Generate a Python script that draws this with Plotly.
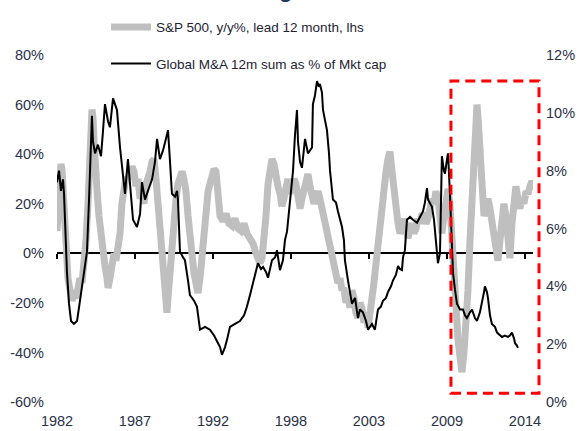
import plotly.graph_objects as go

# ---------------- data ----------------
tick_years = [1982, 1987.33, 1992.67, 1998, 2003.33, 2008.67, 2014]
tick_labels = ["1982", "1987", "1992", "1998", "2003", "2009", "2014"]

left_ticks = [-60, -40, -20, 0, 20, 40, 60, 80]
right_ticks = [0, 2, 4, 6, 8, 10, 12]

sp_name = "S&P 500, y/y%, lead 12 month, lhs"
sp_x = [1982.00, 1982.07, 1982.17, 1982.27, 1982.34, 1982.41, 1982.48, 1982.62, 1982.75, 1982.89,
        1983.03, 1983.16, 1983.30, 1983.44, 1983.57, 1983.71, 1983.85, 1983.98, 1984.12, 1984.19,
        1984.26, 1984.32, 1984.39, 1984.46, 1984.53, 1984.60, 1984.74, 1984.87, 1985.01, 1985.15,
        1985.28, 1985.42, 1985.49, 1985.62, 1985.76, 1985.90, 1986.03, 1986.17, 1986.31, 1986.44,
        1986.58, 1986.72, 1986.85, 1986.99, 1987.13, 1987.26, 1987.40, 1987.54, 1987.68, 1987.81,
        1987.95, 1988.09, 1988.22, 1988.36, 1988.50, 1988.63, 1988.77, 1988.91, 1989.04, 1989.18,
        1989.32, 1989.45, 1989.52, 1989.59, 1989.73, 1989.86, 1990.00, 1990.14, 1990.27, 1990.41,
        1990.55, 1990.68, 1990.82, 1990.96, 1991.09, 1991.23, 1991.37, 1991.50, 1991.64, 1991.78,
        1991.91, 1992.05, 1992.19, 1992.33, 1992.46, 1992.60, 1992.74, 1992.87, 1993.01, 1993.15,
        1993.35, 1993.56, 1993.76, 1993.97, 1994.17, 1994.38, 1994.58, 1994.79, 1994.99, 1995.20,
        1995.40, 1995.61, 1995.74, 1995.88, 1996.02, 1996.15, 1996.29, 1996.43, 1996.56, 1996.70,
        1996.84, 1996.97, 1997.11, 1997.25, 1997.38, 1997.52, 1997.66, 1997.79, 1997.93, 1998.07,
        1998.21, 1998.34, 1998.48, 1998.62, 1998.75, 1998.89, 1999.03, 1999.16, 1999.30, 1999.44,
        1999.57, 1999.71, 1999.85, 1999.98, 2000.12, 2000.26, 2000.39, 2000.53, 2000.67, 2000.80,
        2000.94, 2001.08, 2001.21, 2001.35, 2001.49, 2001.62, 2001.76, 2001.90, 2002.03, 2002.17,
        2002.31, 2002.44, 2002.58, 2002.72, 2002.85, 2002.99, 2003.13, 2003.27, 2003.40, 2003.54,
        2003.67, 2003.81, 2003.95, 2004.09, 2004.22, 2004.36, 2004.50, 2004.63, 2004.77, 2004.91,
        2005.04, 2005.18, 2005.32, 2005.45, 2005.59, 2005.73, 2005.86, 2006.00, 2006.14, 2006.27,
        2006.41, 2006.55, 2006.68, 2006.82, 2006.96, 2007.09, 2007.23, 2007.37, 2007.50, 2007.64,
        2007.78, 2007.91, 2008.05, 2008.19, 2008.32, 2008.46, 2008.60, 2008.74, 2008.87, 2009.01,
        2009.15, 2009.28, 2009.42, 2009.56, 2009.69, 2009.83, 2009.97, 2010.10, 2010.24, 2010.38,
        2010.51, 2010.65, 2010.72, 2010.79, 2010.92, 2011.06, 2011.20, 2011.33, 2011.47, 2011.61,
        2011.74, 2011.88, 2012.02, 2012.15, 2012.29, 2012.43, 2012.56, 2012.70, 2012.84, 2012.97,
        2013.11, 2013.25, 2013.38, 2013.52, 2013.66, 2013.79, 2013.93, 2014.07, 2014.21, 2014.34,
        2014.48, 2014.55]
sp_y = [9, 20, 33, 36, 34, 25, 10, -3, -10, -15,
        -19, -17, -18, -14, -10, -12, -5, 5, 20, 30,
        42, 52, 58, 55, 45, 35, 25, 15, 6, 0,
        -5, -10, -14, -10, -5, 0, -3, 2, 8, 20,
        28, 31, 30, 34, 35, 33, 27, 30, 22, 24,
        20, 28, 30, 33, 37, 38, 30, 20, 8, -3,
        -15, -22, -24, -18, -5, 5, 15, 22, 28, 32,
        33, 30, 25, 15, 5, -3, -8, -12, -16, -10,
        0, 10, 18, 25, 28, 32, 34, 33, 22, 15,
        13, 16, 12, 11, 14, 10, 9, 12, 8, 6,
        4, 0, -2, -4, -2, 5, 15, 28, 35, 38,
        36, 30, 27, 24, 19, 22, 26, 30, 24, 27,
        30, 28, 23, 18, 22, 26, 29, 32, 27, 23,
        20, 23, 25, 22, 18, 15, 12, 8, 5, 2,
        -2, -8, -12, -10, -15, -14, -20, -17, -22, -15,
        -18, -24, -26, -20, -22, -28, -24, -30, -26, -18,
        -12, -4, 6, 15, 22, 28, 33, 38, 41, 33,
        24, 18, 12, 8, 10, 14, 8, 6, 10, 12,
        8, 10, 14, 12, 16, 15, 12, 14, 18, 22,
        20, 25, 22, 12, 8, 15, 22, 26, 20, 5,
        -10, -25, -35, -42, -48, -40, -30, -15, 5, 25,
        42, 55, 60, 55, 38, 25, 15, 18, 22, 18,
        12, 8, 2, -3, 5, 15, 20, 15, 8, -2,
        12, 25, 27, 22, 18, 22, 20, 25, 24, 27,
        29, 28]

ma_name = "Global M&A 12m sum as % of Mkt cap"
ma_x = [1982.00, 1982.07, 1982.14, 1982.27, 1982.41, 1982.48, 1982.62, 1982.68, 1982.82, 1982.96,
        1983.16, 1983.37, 1983.57, 1983.85, 1984.05, 1984.19, 1984.32, 1984.39, 1984.46, 1984.60,
        1984.80, 1985.01, 1985.15, 1985.28, 1985.49, 1985.62, 1985.83, 1985.97, 1986.10, 1986.31,
        1986.51, 1986.65, 1986.85, 1987.06, 1987.20, 1987.47, 1987.68, 1987.81, 1988.02, 1988.15,
        1988.36, 1988.50, 1988.70, 1988.84, 1989.04, 1989.25, 1989.45, 1989.59, 1989.73, 1989.86,
        1990.07, 1990.21, 1990.27, 1990.41, 1990.62, 1990.75, 1990.96, 1991.09, 1991.37, 1991.57,
        1991.78, 1992.12, 1992.46, 1992.74, 1992.94, 1993.15, 1993.28, 1993.49, 1993.62, 1993.83,
        1994.17, 1994.51, 1994.79, 1994.99, 1995.20, 1995.40, 1995.61, 1995.74, 1995.95, 1996.09,
        1996.29, 1996.43, 1996.70, 1996.91, 1997.04, 1997.25, 1997.45, 1997.59, 1997.73, 1997.86,
        1998.00, 1998.14, 1998.27, 1998.41, 1998.48, 1998.62, 1998.75, 1998.96, 1999.16, 1999.30,
        1999.44, 1999.50, 1999.64, 1999.78, 1999.91, 1999.98, 2000.12, 2000.19, 2000.32, 2000.46,
        2000.60, 2000.67, 2000.87, 2001.08, 2001.21, 2001.35, 2001.49, 2001.62, 2001.69, 2001.90,
        2002.03, 2002.17, 2002.38, 2002.58, 2002.72, 2002.92, 2003.13, 2003.27, 2003.40, 2003.54,
        2003.74, 2003.95, 2004.15, 2004.29, 2004.50, 2004.63, 2004.84, 2004.97, 2005.18, 2005.32,
        2005.45, 2005.59, 2005.66, 2005.79, 2005.93, 2006.14, 2006.34, 2006.62, 2006.82, 2007.03,
        2007.16, 2007.30, 2007.37, 2007.50, 2007.64, 2007.78, 2007.85, 2007.98, 2008.05, 2008.19,
        2008.26, 2008.32, 2008.46, 2008.53, 2008.67, 2008.74, 2008.87, 2008.94, 2009.01, 2009.08,
        2009.21, 2009.35, 2009.56, 2009.76, 2009.90, 2010.03, 2010.24, 2010.38, 2010.58, 2010.72,
        2010.92, 2011.06, 2011.20, 2011.26, 2011.40, 2011.47, 2011.61, 2011.74, 2011.95, 2012.09,
        2012.29, 2012.43, 2012.63, 2012.84, 2012.97, 2013.11, 2013.25, 2013.32, 2013.45, 2013.52]
ma_y = [7.6, 7.9, 8.0, 7.3, 7.7, 7.2, 5.2, 4.5, 3.4, 2.8,
        2.7, 2.8, 3.5, 4.5, 5.2, 7.0, 8.8, 9.9, 9.0, 8.6,
        8.9, 8.5, 9.4, 10.3, 9.7, 9.5, 10.5, 10.3, 10.1, 8.8,
        7.8, 7.2, 8.4, 7.0, 6.3, 6.05, 6.5, 7.6, 7.0, 7.2,
        7.5, 7.7, 8.3, 9.1, 8.4, 8.7, 9.1, 9.4, 8.3, 7.2,
        7.1, 7.3, 7.0, 5.2, 5.0, 4.9, 4.2, 3.7, 3.5, 3.3,
        2.5, 2.6, 2.5, 2.3, 2.1, 1.9, 1.63, 1.9, 2.14, 2.6,
        2.7, 2.8, 3.0, 3.3, 3.7, 4.1, 4.6, 4.8, 4.6, 4.67,
        4.5, 4.3, 4.9, 5.0, 5.25, 4.56, 4.9, 5.6, 5.9, 6.6,
        7.3, 8.0, 9.2, 10.1, 9.0, 8.3, 8.1, 9.1, 8.6, 8.7,
        8.8, 10.3, 10.6, 11.1, 10.9, 11.0, 10.7, 10.1, 9.8, 9.4,
        8.6, 8.0, 7.0, 6.9, 6.6, 6.3, 6.05, 5.6, 4.9, 4.2,
        3.8, 3.4, 3.6, 2.9, 3.2, 3.1, 2.8, 2.5, 2.6, 2.7,
        2.5, 3.2, 3.3, 3.5, 3.6, 3.8, 4.0, 4.2, 4.4, 4.7,
        4.6, 4.56, 5.0, 5.25, 6.3, 6.4, 6.3, 6.2, 6.4, 6.6,
        6.9, 7.4, 7.0, 6.9, 6.75, 6.3, 5.85, 5.0, 4.8, 5.15,
        6.5, 8.5, 8.0, 7.9, 8.4, 8.6, 7.2, 6.2, 5.15, 4.46,
        3.9, 3.4, 3.2, 3.2, 3.0, 2.9, 3.1, 3.2, 2.9, 2.8,
        3.1, 3.4, 3.8, 4.0, 3.8, 3.6, 3.0, 2.7, 2.6, 2.4,
        2.3, 2.25, 2.3, 2.25, 2.3, 2.4, 2.2, 2.04, 1.95, 1.87]

highlight_start, highlight_end = 2008.94, 2014.96   # red dashed box (years)
highlight_low, highlight_high = -56.5, 69.5           # red dashed box (lhs %)

# ---------------- figure ----------------
FONT = "Liberation Sans, Arial, sans-serif"
TICK_COLOR = "#2a3247"
X_RANGE = [1982, 2014.55]
Y_RANGE = [-60, 80]
Y2_RANGE = [0, 12]

fig = go.Figure()
fig.add_trace(go.Scatter(
    x=sp_x, y=sp_y, mode="lines", name=sp_name, legendgroup="sp",
    line=dict(color="#BFBFBF", width=7), xaxis="x", yaxis="y",
))
fig.add_trace(go.Scatter(
    x=ma_x, y=ma_y, mode="lines", name=ma_name, legendgroup="ma",
    line=dict(color="#000000", width=2), xaxis="x2", yaxis="y2",
))

zero_pos = (0 - Y_RANGE[0]) / (Y_RANGE[1] - Y_RANGE[0])

fig.update_layout(
    width=579, height=431,
    margin=dict(l=57, r=46, t=55, b=29, autoexpand=False),
    paper_bgcolor="white", plot_bgcolor="white",
    font=dict(family=FONT, color=TICK_COLOR, size=14.5),
    showlegend=True,
    legend=dict(
        x=0.103, y=1.125, xanchor="left", yanchor="top",
        bgcolor="rgba(0,0,0,0)", font=dict(size=13.5, color="#1e2333", family=FONT),
        tracegroupgap=16, traceorder="grouped", itemwidth=40,
    ),
    xaxis=dict(
        domain=[0, 1], range=X_RANGE, tickvals=tick_years, ticktext=tick_labels,
        showline=False, showgrid=False, zeroline=False, ticks="",
        tickfont=dict(size=14.5, color=TICK_COLOR), ticklabelstandoff=8,
        automargin=False,
    ),
    xaxis2=dict(
        overlaying="x", anchor="free", position=zero_pos, range=X_RANGE,
        tickvals=tick_years, showticklabels=False, ticks="outside", ticklen=5,
        tickwidth=1.5, tickcolor="black", showline=False, showgrid=False,
        zeroline=False, automargin=False,
    ),
    yaxis=dict(
        range=Y_RANGE, tickvals=left_ticks, ticktext=[f"{v}%" for v in left_ticks],
        showgrid=False, zeroline=True, zerolinecolor="black", zerolinewidth=2,
        showline=False, ticks="", ticklabelstandoff=12,
        tickfont=dict(size=14.5, color=TICK_COLOR), automargin=False,
    ),
    yaxis2=dict(
        range=Y2_RANGE, overlaying="y", side="right", anchor="x2",
        tickvals=right_ticks, ticktext=[f"{v}%" for v in right_ticks],
        showgrid=False, zeroline=False, showline=False, ticks="",
        ticklabelstandoff=12, tickfont=dict(size=14.5, color=TICK_COLOR),
        automargin=False,
    ),
)

# red dashed highlight box (paper coordinates derived from the data ranges)
def xp(v):
    return (v - X_RANGE[0]) / (X_RANGE[1] - X_RANGE[0])

def yp(v):
    return (v - Y_RANGE[0]) / (Y_RANGE[1] - Y_RANGE[0])

fig.add_shape(
    type="rect", xref="paper", yref="paper",
    x0=xp(highlight_start), x1=xp(highlight_end),
    y0=yp(highlight_low), y1=yp(highlight_high),
    line=dict(color="#FF0000", width=3, dash="10px,6px"),
    fillcolor="rgba(0,0,0,0)", layer="above",
)

# cropped title fragment at the very top
fig.add_annotation(
    text="<b>g</b>", xref="paper", yref="paper", x=0.479, y=1.147,
    xanchor="center", yanchor="bottom", showarrow=False,
    font=dict(size=22, color="#1f3864", family=FONT),
)

fig.write_html(
    "out.html",
    config={"displayModeBar": False},
    post_script="document.body.style.margin='0';document.body.style.padding='0';",
)
